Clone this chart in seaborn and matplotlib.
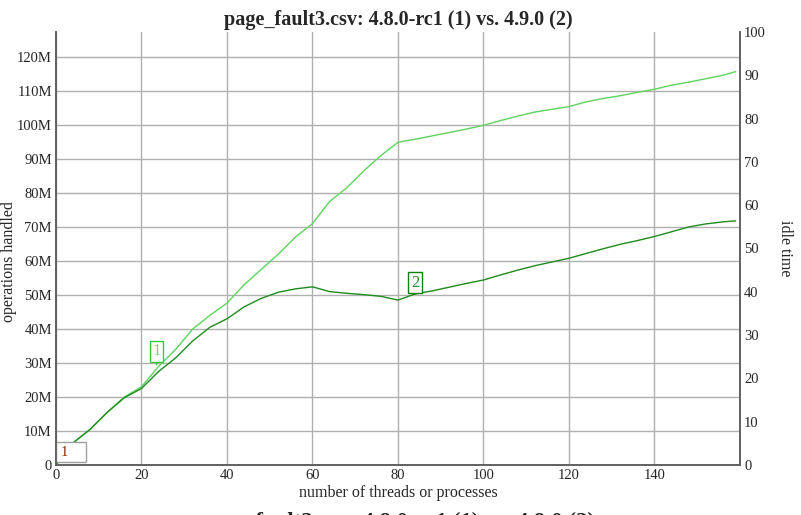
import numpy as np
import pandas as pd
import matplotlib
matplotlib.use('Agg')
import matplotlib.pyplot as plt
from matplotlib.patches import Rectangle
import seaborn as sns

title = 'page_fault3.csv: 4.8.0-rc1 (1) vs. 4.9.0 (2)'

threads = [0, 4, 8, 12, 16, 20, 24, 28, 32, 36, 40, 44, 48, 52, 56, 60, 64, 68, 72, 76,
           80, 84, 88, 92, 96, 100, 104, 108, 112, 116, 120, 124, 128, 132, 136, 140,
           144, 148, 152, 156, 159]
# operations handled, millions
ops_rc1 = [0, 6.5, 10.5, 15.5, 20, 23, 29, 34, 40, 44, 47.6, 53, 57.5, 62, 67, 71,
           77.5, 81.5, 86.5, 91, 94.9, 95.8, 96.8, 97.8, 98.8, 99.9, 101.3, 102.6,
           103.8, 104.6, 105.4, 106.8, 107.8, 108.6, 109.6, 110.5, 111.7, 112.6,
           113.6, 114.6, 115.7]
ops_490 = [0, 6.5, 10.5, 15.5, 19.8, 22.5, 27.5, 31.5, 36.5, 40.5, 43, 46.5, 49,
           50.8, 51.8, 52.4, 51, 50.5, 50.1, 49.6, 48.5, 50.3, 51.2, 52.3, 53.4,
           54.4, 55.9, 57.3, 58.6, 59.7, 60.8, 62.2, 63.6, 64.9, 66, 67.2, 68.6,
           70, 70.9, 71.5, 71.8]

df = pd.DataFrame({
    'threads': threads * 2,
    'ops': np.array(ops_rc1 + ops_490) * 1e6,
    'run': ['1'] * len(threads) + ['2'] * len(threads),
})

sns.set_style('white')
plt.rcParams['font.family'] = ['Liberation Serif', 'DejaVu Serif']

fig = plt.figure(figsize=(8.01, 5.15), dpi=100)
ax = fig.add_axes([0.0699, 0.0971, 0.8539, 0.8408])

sns.lineplot(data=df, x='threads', y='ops', hue='run',
             palette={'1': '#5ed45e', '2': '#1e8c1e'}, linewidth=1.0,
             legend=False, ax=ax)

ax.set_xlim(0, 160)
ax.set_ylim(0, 127.35e6)
ax.set_xticks(range(0, 160, 20))
yt = np.arange(0, 130e6, 10e6)
ax.set_yticks(yt)
ax.set_yticklabels(['0'] + [f'{int(v / 1e6)}M' for v in yt[1:]])
ax.grid(True, color='#b0b0b0', linewidth=1.0)
ax.tick_params(length=0, labelsize=10.5, pad=3)
ax.set_xlabel('number of threads or processes', fontsize=11.5, labelpad=2)
ax.set_ylabel('operations handled', fontsize=11.5, va='center')
ax.yaxis.set_label_coords(-0.068, 0.47)
for s in ['left', 'bottom', 'right']:
    ax.spines[s].set_color('#606060')
    ax.spines[s].set_linewidth(1.2)
ax.spines['top'].set_visible(False)

ax2 = ax.twinx()
ax2.set_ylim(0, 100)
ax2.set_yticks(range(0, 110, 10))
ax2.tick_params(length=0, labelsize=10.5, pad=3)
ax2.set_ylabel('idle time', fontsize=11.5, rotation=270, va='center')
ax2.yaxis.set_label_coords(1.066, 0.5)
ax2.grid(False)
for s in ['left', 'bottom', 'right']:
    ax2.spines[s].set_color('#606060')
    ax2.spines[s].set_linewidth(1.2)
ax2.spines['top'].set_visible(False)

# series labels
ax.annotate('1', xy=(23.5, 29.5e6), xytext=(23.5, 33.5e6), ha='center', va='center',
            fontsize=12, color='#7fd77f',
            bbox=dict(boxstyle='square,pad=0.15', fc='white', ec='#33cc33', lw=1),
            arrowprops=dict(arrowstyle='-', color='#33cc33', lw=1, shrinkA=0, shrinkB=0))
ax.annotate('2', xy=(84, 50.3e6), xytext=(84, 53.6e6), ha='center', va='center',
            fontsize=12, color='#1e8c1e',
            bbox=dict(boxstyle='square,pad=0.15', fc='white', ec='#108010', lw=1),
            arrowprops=dict(arrowstyle='-', color='#108010', lw=1, shrinkA=0, shrinkB=0))
ax.add_patch(Rectangle((0.1, 0.9e6), 7.0, 5.9e6, fc='white', ec='#a0a0a0',
                       lw=1, zorder=5))
ax.text(1.0, 3.8e6, '1', ha='left', va='center', fontsize=10.5, color='#8b2500',
        zorder=6)

fig.text(0.497, 0.962, title, ha='center', va='center', fontsize=14.5,
         fontweight='bold')
fig.text(0.495, 0.006, title, ha='center', va='top', fontsize=16.5,
         fontweight='bold')

fig.savefig('out.png', dpi=100)
